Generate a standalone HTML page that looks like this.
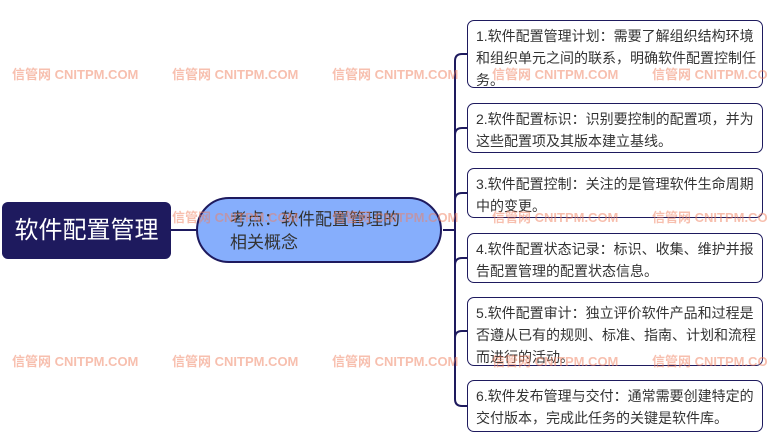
<!DOCTYPE html>
<html><head><meta charset="utf-8"><style>
body{margin:0;width:768px;height:442px;background:#fff;position:relative;overflow:hidden;font-family:"Liberation Sans","Noto Sans CJK SC",sans-serif}
.b{position:absolute;left:467px;border:1.5px solid #1e1a5e;border-radius:7px;background:#fff;padding:4px 0 0 8px;font-size:14px;line-height:22px;color:#333;box-sizing:border-box;width:296px;white-space:nowrap;overflow:hidden}
.w{position:absolute;font-size:13px;font-weight:bold;color:#f08060;opacity:.5;white-space:nowrap;z-index:5}
</style></head><body>
<svg width="768" height="442" style="position:absolute;left:0;top:0">
<g fill="none" stroke="#1e1a5e" stroke-width="2">
<line x1="171" y1="230" x2="197" y2="230"/>
<line x1="443" y1="230" x2="455" y2="230"/>
<path d="M467 54 H462 Q455 54 455 61 V399 Q455 406 462 406 H467"/>
<path d="M455 135 Q455 128 462 128 H467"/>
<path d="M455 200 Q455 193 462 193 H467"/>
<path d="M455 265 Q455 258 462 258 H467"/>
<path d="M455 338 Q455 331 462 331 H467"/>
</g>
</svg>
<div style="position:absolute;left:2px;top:202px;width:169px;height:57px;background:#1e1a5e;border-radius:6px;color:#fff;font-size:24px;line-height:57px;text-align:center">软件配置管理</div>
<div style="position:absolute;left:196px;top:197px;width:246px;height:66px;background:#86aefc;border:2px solid #1e1a5e;border-radius:34px;box-sizing:border-box;padding:9px 0 0 32px;font-size:17px;line-height:23px;color:#333">考点：软件配置管理的<br>相关概念</div>
<div class="b" style="top:20px;height:68px">1.软件配置管理计划：需要了解组织结构环境<br>和组织单元之间的联系，明确软件配置控制任<br>务。</div>
<div class="b" style="top:103px;height:50px">2.软件配置标识：识别要控制的配置项，并为<br>这些配置项及其版本建立基线。</div>
<div class="b" style="top:168px;height:50px">3.软件配置控制：关注的是管理软件生命周期<br>中的变更。</div>
<div class="b" style="top:233px;height:50px">4.软件配置状态记录：标识、收集、维护并报<br>告配置管理的配置状态信息。</div>
<div class="b" style="top:297px;height:69px">5.软件配置审计：独立评价软件产品和过程是<br>否遵从已有的规则、标准、指南、计划和流程<br>而进行的活动。</div>
<div class="b" style="top:380px;height:52px">6.软件发布管理与交付：通常需要创建特定的<br>交付版本，完成此任务的关键是软件库。</div>
<div class="w" style="left:12px;top:64px">信管网 CNITPM.COM</div>
<div class="w" style="left:172px;top:64px">信管网 CNITPM.COM</div>
<div class="w" style="left:332px;top:64px">信管网 CNITPM.COM</div>
<div class="w" style="left:492px;top:64px">信管网 CNITPM.COM</div>
<div class="w" style="left:652px;top:64px">信管网 CNITPM.COM</div>
<div class="w" style="left:172px;top:207px">信管网 CNITPM.COM</div>
<div class="w" style="left:332px;top:207px">信管网 CNITPM.COM</div>
<div class="w" style="left:492px;top:207px">信管网 CNITPM.COM</div>
<div class="w" style="left:652px;top:207px">信管网 CNITPM.COM</div>
<div class="w" style="left:12px;top:351px">信管网 CNITPM.COM</div>
<div class="w" style="left:172px;top:351px">信管网 CNITPM.COM</div>
<div class="w" style="left:332px;top:351px">信管网 CNITPM.COM</div>
<div class="w" style="left:492px;top:351px">信管网 CNITPM.COM</div>
<div class="w" style="left:652px;top:351px">信管网 CNITPM.COM</div>
</body></html>
